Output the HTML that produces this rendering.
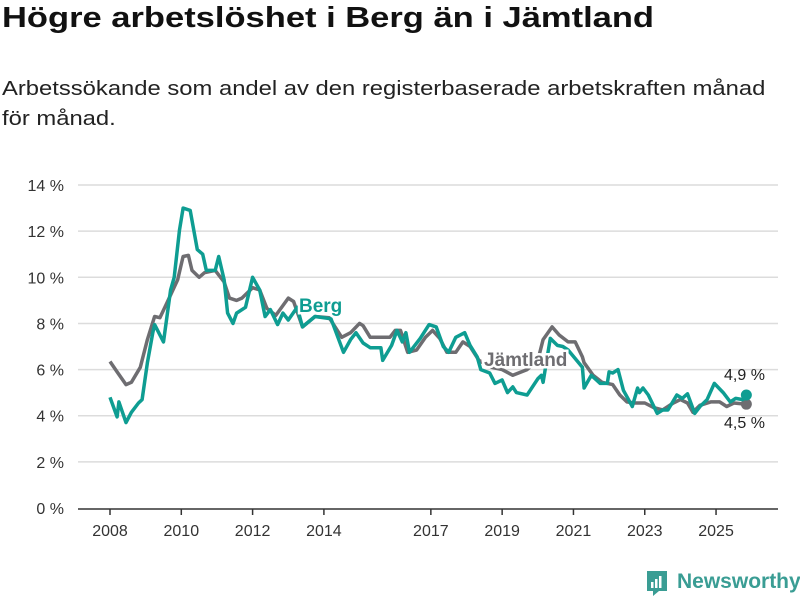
<!DOCTYPE html>
<html><head><meta charset="utf-8">
<style>
body{margin:0;width:800px;height:600px;background:#fff;font-family:"Liberation Sans",sans-serif;overflow:hidden;position:relative}
h1{position:absolute;left:2px;top:2px;margin:0;font-size:29px;font-weight:bold;color:#111;transform:scaleX(1.19);transform-origin:left top;white-space:nowrap}
.sub{position:absolute;left:2px;top:74px;font-size:20px;line-height:30px;color:#222;transform:scaleX(1.19);transform-origin:left top;white-space:nowrap}
svg{position:absolute;left:0;top:0}
</style></head><body>
<h1>Högre arbetslöshet i Berg än i Jämtland</h1>
<div class="sub">Arbetssökande som andel av den registerbaserade arbetskraften månad<br>för månad.</div>
<svg width="800" height="600" id="chart"></svg>
<script>
const yTicks=[0,2,4,6,8,10,12,14];
const xTicks=[2008,2010,2012,2014,2017,2019,2021,2023,2025];
const bergT=[2008.0,2008.2,2008.25,2008.45,2008.6,2008.8,2008.9,2009.05,2009.2,2009.25,2009.5,2009.7,2009.8,2009.95,2010.05,2010.25,2010.45,2010.6,2010.7,2010.95,2011.05,2011.2,2011.3,2011.45,2011.55,2011.8,2012.0,2012.2,2012.35,2012.5,2012.7,2012.85,2013.0,2013.25,2013.4,2013.75,2014.2,2014.55,2014.75,2014.9,2015.1,2015.3,2015.6,2015.65,2015.9,2016.05,2016.2,2016.3,2016.4,2016.7,2016.95,2017.15,2017.35,2017.5,2017.7,2017.95,2018.1,2018.3,2018.4,2018.65,2018.8,2019.0,2019.15,2019.3,2019.4,2019.7,2020.0,2020.1,2020.15,2020.35,2020.55,2020.7,2020.85,2021.25,2021.3,2021.5,2021.75,2021.95,2022.0,2022.1,2022.25,2022.4,2022.65,2022.8,2022.85,2022.95,2023.1,2023.35,2023.5,2023.65,2023.9,2024.05,2024.2,2024.4,2024.55,2024.75,2024.95,2025.2,2025.4,2025.55,2025.75,2025.85];
const bergV=[4.8,3.95,4.6,3.7,4.15,4.55,4.7,6.3,7.6,7.95,7.2,9.45,10.0,12.05,13.0,12.9,11.2,11.0,10.3,10.3,10.9,9.9,8.45,8.0,8.45,8.7,10.0,9.45,8.3,8.6,7.95,8.45,8.15,8.7,7.85,8.3,8.2,6.75,7.3,7.6,7.15,6.95,6.95,6.4,7.05,7.7,7.2,7.6,6.75,7.35,7.95,7.85,7.0,6.75,7.4,7.6,7.05,6.55,6.0,5.85,5.4,5.55,5.0,5.25,5.0,4.9,5.6,5.75,5.45,7.35,7.05,7.0,6.85,6.1,5.2,5.75,5.4,5.4,5.9,5.85,6.0,5.1,4.4,5.2,5.0,5.2,4.9,4.1,4.25,4.25,4.9,4.75,4.95,4.1,4.4,4.7,5.4,5.0,4.6,4.75,4.7,4.9];
const jamT=[2008.0,2008.2,2008.45,2008.6,2008.85,2009.05,2009.25,2009.4,2009.6,2009.9,2010.05,2010.2,2010.3,2010.5,2010.65,2010.95,2011.2,2011.35,2011.55,2011.7,2012.0,2012.2,2012.4,2012.65,2013.0,2013.15,2013.4,2013.75,2014.15,2014.5,2014.75,2015.0,2015.1,2015.3,2015.85,2016.0,2016.15,2016.35,2016.6,2016.85,2017.05,2017.25,2017.45,2017.7,2017.9,2018.1,2018.35,2018.7,2019.0,2019.3,2019.7,2020.0,2020.15,2020.4,2020.6,2020.85,2021.05,2021.25,2021.3,2021.55,2021.8,2022.1,2022.3,2022.5,2022.7,2023.0,2023.25,2023.5,2023.8,2024.0,2024.2,2024.35,2024.55,2024.85,2025.1,2025.3,2025.5,2025.85];
const jamV=[6.35,5.9,5.35,5.45,6.1,7.3,8.3,8.25,8.9,9.9,10.9,10.95,10.3,10.0,10.2,10.3,9.8,9.1,9.0,9.1,9.55,9.45,8.65,8.35,9.1,8.95,7.85,8.3,8.25,7.4,7.6,8.0,7.9,7.4,7.4,7.7,7.7,6.75,6.85,7.4,7.7,7.35,6.75,6.75,7.2,7.0,6.4,6.1,6.0,5.75,6.0,6.4,7.3,7.85,7.5,7.2,7.2,6.55,6.3,5.75,5.45,5.35,4.9,4.6,4.55,4.55,4.35,4.25,4.55,4.7,4.55,4.15,4.45,4.6,4.6,4.4,4.55,4.5];
const NS="http://www.w3.org/2000/svg";
const svg=document.getElementById('chart');
const X=t=>110+(t-2008)*35.65, Y=v=>508-v*23.07;
function mk(tag,attrs,parent){const e=document.createElementNS(NS,tag);for(const k in attrs)e.setAttribute(k,attrs[k]);(parent||svg).appendChild(e);return e;}
yTicks.forEach(v=>{
  if(v>0){const g=mk('line',{x1:78,x2:778,y1:Y(v),y2:Y(v),stroke:'#dcdcdc','stroke-width':1.5});
  
  }
  const t=mk('text',{x:64,y:Y(v)+6,'text-anchor':'end','font-size':16,fill:'#333'});
  t.textContent=v+' %';
  
  
});
const ax=mk('line',{x1:78,x2:778,y1:509,y2:509,stroke:'#333','stroke-width':1.5});


xTicks.forEach(y=>{
  mk('line',{x1:X(y),x2:X(y),y1:509,y2:515,stroke:'#333','stroke-width':1.5});
  const t=mk('text',{x:X(y),y:536,'text-anchor':'middle','font-size':16,fill:'#333'});
  t.textContent=y;
  
  
});
function line(T,V,color,name){
  const p=mk('path',{d:T.map((t,i)=>(i?'L':'M')+X(t).toFixed(1)+' '+Y(V[i]).toFixed(1)).join(''),fill:'none',stroke:color,'stroke-width':3.5,'stroke-linejoin':'round'});
  
  
  const c=mk('circle',{cx:X(T[T.length-1]),cy:Y(V[V.length-1]),r:5.5,fill:color});
  
  
}
line(jamT,jamV,'#6e6d71','jamtland');
line(bergT,bergV,'#0e9d92','berg');
function label(x,y,txt,color,name,bold,anchor){
  const t=mk('text',{x:x,y:y,'font-size':bold?19:16,'font-weight':bold?'bold':'normal',fill:color,'text-anchor':anchor||'start',stroke:bold?'#fff':'none','stroke-width':bold?5:0,'paint-order':'stroke'});
  t.textContent=txt;
  
  
}
label(299,312,'Berg','#0e9d92','berg-label',true);
label(484,366,'Jämtland','#6e6d71','jamtland-label',true);
label(724,380,'4,9 %','#222','berg-end-value',false);
label(724,428,'4,5 %','#222','jamtland-end-value',false);
</script>
<div style="position:absolute;left:645px;top:570px;width:160px;height:28px">
<svg width="26" height="28" style="position:absolute;left:0;top:0"><path d="M2 1h20v20h-8l-6 5v-5h-6z" fill="#3a9d94"/><rect x="6" y="12" width="2.5" height="6" fill="#fff"/><rect x="10" y="9" width="2.5" height="9" fill="#fff"/><rect x="14" y="6" width="2.5" height="12" fill="#fff"/></svg>
<span style="position:absolute;left:32px;top:0;font-size:21px;font-weight:bold;color:#3a9d94">Newsworthy</span>
</div>
</body></html>
